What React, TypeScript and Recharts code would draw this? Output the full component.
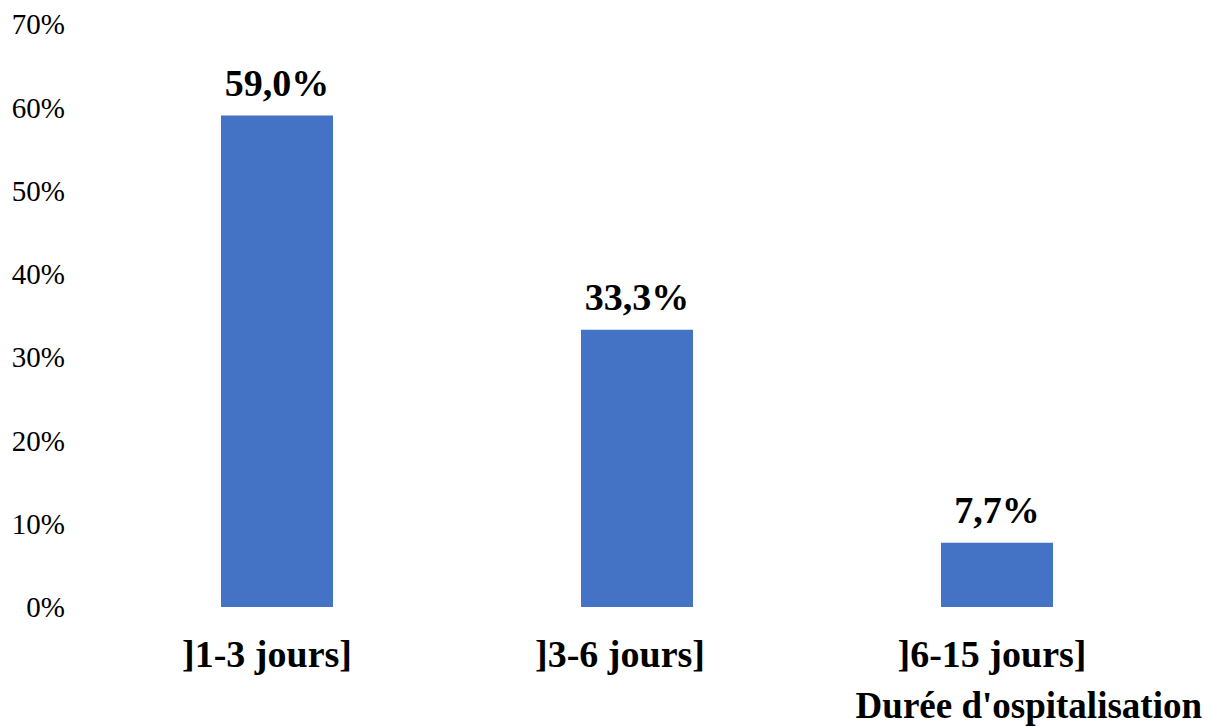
import { BarChart, Bar, XAxis, YAxis, LabelList } from 'recharts'

const categories = [']1-3 jours]', ']3-6 jours]', ']6-15 jours]']
const percents = [59.0, 33.3, 7.7]
const yTicks = [0, 10, 20, 30, 40, 50, 60, 70]

const data = categories.map((name, i) => ({ name, value: percents[i] }))

const FONT = '"Liberation Serif", "Times New Roman", serif'

// category labels are not quite centred under their bars
const labelNudge = [-10, -17, -5]

const fmtPct = (v: number) => `${v.toFixed(1).replace('.', ',')}%`

const CategoryTick = (props: any) => {
  const { x, y, payload, index } = props
  return (
    <text
      x={x + (labelNudge[index] ?? 0)}
      y={y}
      dy="0.71em"
      textAnchor="middle"
      fontFamily={FONT}
      fontWeight="bold"
      fontSize={38}
      fill="#000"
    >
      {payload.value}
    </text>
  )
}

// axis title sits under the last category, right-aligned to the edge
const AxisTitle = (props: any) => {
  const vb = props.viewBox
  return (
    <text
      x={vb.x + vb.width + 25}
      y={vb.y + vb.height - 9}
      textAnchor="end"
      fontFamily={FONT}
      fontWeight="bold"
      fontSize={37}
      fill="#000"
    >
      Durée d'ospitalisation
    </text>
  )
}

export default function App() {
  return (
    <div style={{ position: 'absolute', left: 0, top: 0, background: '#fff' }}>
      <BarChart
        width={1213}
        height={727}
        data={data}
        margin={{ top: 24, right: 36, bottom: 0, left: 0 }}
      >
        <XAxis
          dataKey="name"
          axisLine={false}
          tickLine={false}
          height={120}
          tickMargin={27}
          tick={<CategoryTick />}
          label={<AxisTitle />}
        />
        <YAxis
          domain={[0, 70]}
          ticks={yTicks}
          axisLine={false}
          tickLine={false}
          width={97}
          tickMargin={26}
          tickFormatter={(v: number) => `${v}%`}
          tick={{ fontFamily: FONT, fontSize: 29, fill: '#000' }}
        />
        <Bar dataKey="value" fill="#4472C4" barSize={112} isAnimationActive={false}>
          <LabelList
            dataKey="value"
            position="top"
            offset={20}
            formatter={(v: any) => fmtPct(Number(v))}
            style={{ fontFamily: FONT, fontWeight: 'bold', fontSize: 38, fill: '#000' }}
          />
        </Bar>
      </BarChart>
    </div>
  )
}
